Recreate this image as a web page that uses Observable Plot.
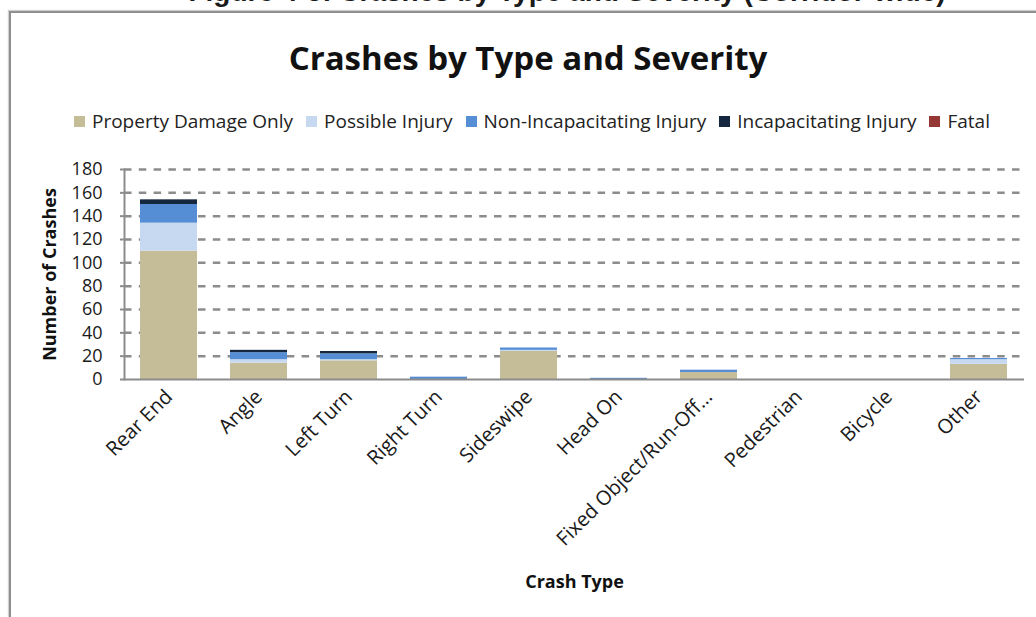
<!DOCTYPE html>
<html>
<head>
<meta charset="utf-8">
<script src="https://cdn.jsdelivr.net/npm/d3@7"></script>
<script src="https://cdn.jsdelivr.net/npm/@observablehq/plot@0.6"></script>
<style>
  html, body { margin: 0; padding: 0; background: #fff; width: 1036px; height: 617px; overflow: hidden; }
  body { position: relative; font-family: "Open Sans", sans-serif; color: #1a1a1a; }
  #caption { position: absolute; left: 0; width: 1036px; top: -22px; text-align: center; font-family: "Liberation Sans", Arial, sans-serif; font-weight: bold; font-size: 28px; line-height: 28px; white-space: nowrap; padding-left: 98px; box-sizing: border-box; }
  #frame { position: absolute; left: 9px; top: 11px; width: 1100px; height: 700px; border-left: 2px solid #8f8f8f; border-top: 2px solid #8f8f8f; box-shadow: -1px -1px 1px #d0d0d0; }
  #title { position: absolute; left: 0; width: 1036px; top: 35px; text-align: center; font-weight: bold; font-size: 33px; line-height: 46px; padding-left: 20px; box-sizing: border-box; color: #111; }
  #legend { position: absolute; left: 74px; top: 108px; display: flex; align-items: center; font-size: 19px; line-height: 26px; white-space: nowrap; color: #222; }
  #legend .item { display: flex; align-items: center; margin-right: 13px; }
  #legend .sw { width: 11px; height: 11px; margin-right: 7px; }
  #chart { position: absolute; left: 0; top: 150px; }
</style>
</head>
<body>
<div id="caption">Figure 4-5: Crashes by Type and Severity (Corridor-wide)</div>
<div id="frame"></div>
<div id="title"></div>
<div id="legend"></div>
<div id="chart"></div>
<script>
const titleText = "Crashes by Type and Severity";
const yLabel = "Number of Crashes";
const xLabel = "Crash Type";
const categories = ["Rear End", "Angle", "Left Turn", "Right Turn", "Sideswipe", "Head On", "Fixed Object/Run-Off\u2026", "Pedestrian", "Bicycle", "Other"];
const severities = ["Property Damage Only", "Possible Injury", "Non-Incapacitating Injury", "Incapacitating Injury", "Fatal"];
const severityColors = ["#c4bd97", "#c6d9f1", "#558ed5", "#14273f", "#953735"];
const propertyDamage = [110, 14, 16, 0, 24, 0, 6, 0, 0, 13];
const possibleInjury = [24, 3, 1, 0, 1, 0, 0, 0, 0, 4];
const nonIncapacitating = [16, 6, 5, 2, 2, 1, 2, 0, 0, 1];
const incapacitating = [4, 2, 2, 0, 0, 0, 0, 0, 0, 0];
const fatal = [0, 0, 0, 0, 0, 0, 0, 0, 0, 0];
const yTicks = [0, 20, 40, 60, 80, 100, 120, 140, 160, 180];

const seriesValues = [propertyDamage, possibleInjury, nonIncapacitating, incapacitating, fatal];
const rows = [];
categories.forEach((c, i) => {
  severities.forEach((s, j) => rows.push({type: c, severity: s, count: seriesValues[j][i]}));
});

document.getElementById("title").textContent = titleText;
const legend = document.getElementById("legend");
severities.forEach((s, j) => {
  const it = document.createElement("div");
  it.className = "item";
  const sw = document.createElement("div");
  sw.className = "sw";
  sw.style.background = severityColors[j];
  const t = document.createElement("span");
  t.textContent = s;
  it.appendChild(sw); it.appendChild(t);
  legend.appendChild(it);
});

const chart = Plot.plot({
  width: 1036,
  height: 460,
  marginLeft: 124,
  marginRight: 12,
  marginTop: 19,
  marginBottom: 231,
  style: {fontFamily: "Open Sans, sans-serif", fontSize: "18px", color: "#1a1a1a", background: "transparent", overflow: "visible"},
  x: {domain: categories, paddingInner: 0.365, paddingOuter: 0.1825, label: null},
  y: {domain: [0, 180], label: null},
  color: {domain: severities, range: severityColors},
  marks: [
    Plot.gridY(yTicks.filter(d => d > 0), {stroke: "#8c8c8c", strokeOpacity: 1, strokeWidth: 2.5, strokeDasharray: "7.5,7.3"}),
    Plot.barY(rows, {x: "type", y: "count", fill: "severity", order: severities}),
    Plot.ruleY([0], {stroke: "#8c8c8c", strokeWidth: 2}),
    Plot.frame({anchor: "left", stroke: "#8c8c8c", strokeWidth: 2}),
    Plot.axisY(yTicks, {tickSize: 4, text: null, stroke: "#8c8c8c", strokeWidth: 2}),
    Plot.axisY(yTicks, {tickSize: 0, tickPadding: 22, fontSize: 18, fill: "#1a1a1a"}),
    Plot.axisX({tickSize: 0, tickRotate: -45, tickPadding: 14, fontSize: 20, fill: "#1a1a1a"}),
    Plot.text([yLabel], {frameAnchor: "left", textAnchor: "middle", rotate: -90, dx: -74, fontWeight: "bold", fontSize: 18, fill: "#111"}),
    Plot.text([xLabel], {frameAnchor: "bottom", dy: 208, fontWeight: "bold", fontSize: 18, fill: "#111"})
  ]
});
document.getElementById("chart").appendChild(chart);
</script>
</body>
</html>
